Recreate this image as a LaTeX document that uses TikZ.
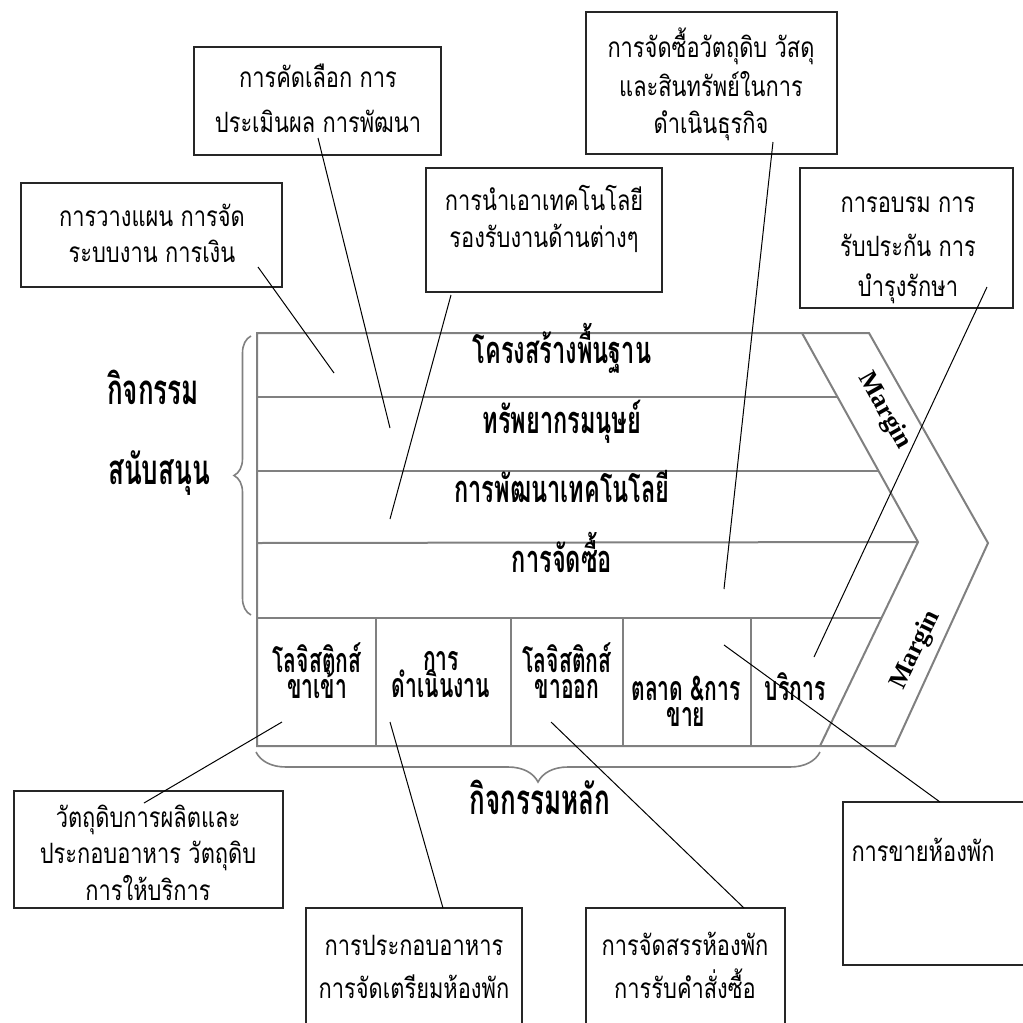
\documentclass[tikz,border=0pt]{standalone}
\usepackage{fontspec}
\usetikzlibrary{fit,decorations.pathreplacing}
\newfontfamily\thai[Script=Thai,FakeStretch=0.78]{Loma}
\newfontfamily\thaihead[Script=Thai,FakeStretch=0.62]{Loma}
\newfontfamily\marginfont{Liberation Serif}
\tikzset{
  box/.style={draw=black!85, line width=0.7pt, inner sep=0pt},
  link/.style={draw=black, line width=0.5pt},
  frame/.style={draw=black!50, line width=1pt},
  note/.style={font=\thai\fontsize{14}{16}\selectfont, anchor=base, inner sep=0pt},
  head/.style={font=\thaihead\bfseries\fontsize{19}{20}\selectfont, anchor=base, inner sep=0pt},
  cell/.style={font=\thaihead\bfseries\fontsize{17}{18}\selectfont, anchor=base, inner sep=0pt},
  big/.style={font=\thaihead\bfseries\fontsize{21}{22}\selectfont, anchor=base, inner sep=0pt},
  mrg/.style={font=\marginfont\bfseries\fontsize{13}{14}\selectfont, inner sep=0pt},
  bracket/.style={draw=black!50, line width=0.8pt, decorate}
}
\begin{document}
\begin{tikzpicture}[x=0.5pt,y=-0.5pt]
\useasboundingbox (0,0) rectangle (1023,1023);
\clip (0,0) rectangle (1023,1023);

% value chain outline
\coordinate (tl) at (257,333);
\coordinate (tr) at (869,333);
\coordinate (tip) at (988,543);
\coordinate (br) at (895,746);
\coordinate (bl) at (257,746);
\coordinate (it) at (802,333);
\coordinate (itip) at (918,542);
\coordinate (ib) at (820,746);
\draw[frame] (tl) -- (tr) -- (tip) -- (br) -- (bl) -- cycle;
\draw[frame] (it) -- (itip) -- (ib);
% support rows
\draw[frame] (257,397) -- (837.5,397);
\draw[frame] (257,471) -- (878.6,471);
\draw[frame] (257,543) -- (itip);
\draw[frame] (257,618) -- (881.5,618);
% primary cells
\foreach \cx in {376,511,623,751} \draw[frame] (\cx,618) -- (\cx,746);

% brackets
\draw[bracket, decoration={brace,amplitude=8.5pt}] (251,615) -- (251,336);
\draw[bracket, decoration={brace,amplitude=15pt}] (820,752) -- (256,752);

% support activity labels
\node[head] (r1) at (562,363) {โครงสร้างพื้นฐาน};
\node[head] (r2) at (562,433) {ทรัพยากรมนุษย์};
\node[head] (r3) at (562,502) {การพัฒนาเทคโนโลยี};
\node[head] (r4) at (562,572) {การจัดซื้อ};

% primary activity labels
\node[cell] (c1a) at (317,672) {โลจิสติกส์};
\node[cell] (c1b) at (317,698) {ขาเข้า};
\node[cell] (c2a) at (441,670) {การ};
\node[cell] (c2b) at (441,697) {ดำเนินงาน};
\node[cell] (c3a) at (567,672) {โลจิสติกส์};
\node[cell] (c3b) at (567,698) {ขาออก};
\node[cell] (c4a) at (686,700) {ตลาด \&การ};
\node[cell] (c4b) at (686,726) {ขาย};
\node[cell] (c5) at (795,700) {บริการ};

% group titles
\node[big] (g1) at (153,404) {กิจกรรม};
\node[big] (g2) at (159,484) {สนับสนุน};
\node[big] (g3) at (540,814) {กิจกรรมหลัก};

% margin labels
\node[mrg, rotate=-60.5] (m1) at (884,411) {Margin};
\node[mrg, rotate=64] (m2) at (916,650) {Margin};

% note boxes
\node[box, fit={(21,183) (282,287)}] (bA) {};
\node[note] (tA1) at (152,226) {การวางแผน การจัด};
\node[note] (tA2) at (152,262) {ระบบงาน การเงิน};

\node[box, fit={(194,47) (441,155)}] (bB) {};
\node[note] (tB1) at (318,87) {การคัดเลือก การ};
\node[note] (tB2) at (318,132) {ประเมินผล การพัฒนา};

\node[box, fit={(426,168) (662,292)}] (bC) {};
\node[note] (tC1) at (544,210) {การนำเอาเทคโนโลยี};
\node[note] (tC2) at (544,247) {รองรับงานด้านต่างๆ};

\node[box, fit={(586,12) (837,154)}] (bD) {};
\node[note] (tD1) at (711,57) {การจัดซื้อวัตถุดิบ วัสดุ};
\node[note] (tD2) at (711,96) {และสินทรัพย์ในการ};
\node[note] (tD3) at (711,133) {ดำเนินธุรกิจ};

\node[box, fit={(800,168) (1013,308)}] (bE) {};
\node[note] (tE1) at (908,212) {การอบรม การ};
\node[note] (tE2) at (908,256) {รับประกัน การ};
\node[note] (tE3) at (908,296) {บำรุงรักษา};

\node[box, fit={(14,791) (283,908)}] (bF) {};
\node[note] (tF1) at (148,827) {วัตถุดิบการผลิตและ};
\node[note] (tF2) at (148,863) {ประกอบอาหาร วัตถุดิบ};
\node[note] (tF3) at (148,900) {การให้บริการ};

\node[box, fit={(306,908) (522,1040)}] (bG) {};
\node[note] (tG1) at (414,955) {การประกอบอาหาร};
\node[note] (tG2) at (414,998) {การจัดเตรียมห้องพัก};

\node[box, fit={(586,908) (785,1040)}] (bH) {};
\node[note] (tH1) at (685,955) {การจัดสรรห้องพัก};
\node[note] (tH2) at (685,998) {การรับคำสั่งซื้อ};

\node[box, fit={(843,802) (1030,965)}] (bI) {};
\node[note] (tI1) at (923,861) {การขายห้องพัก};

% leader lines
\coordinate (aS) at (258,267);  \coordinate (aE) at (334,373);
\coordinate (bS) at (318,138);  \coordinate (bE) at (390,428);
\coordinate (cS) at (451,295);  \coordinate (cE) at (390,519);
\coordinate (dS) at (773,142);  \coordinate (dE) at (724,589);
\coordinate (eS) at (987,287);  \coordinate (eE) at (814,657);
\coordinate (fS) at (144,803);  \coordinate (fE) at (282,722);
\coordinate (gS) at (443,908);  \coordinate (gE) at (390,722);
\coordinate (hS) at (744,908);  \coordinate (hE) at (551,722);
\coordinate (iS) at (940,802);  \coordinate (iE) at (724,645);
\foreach \p in {a,b,c,d,e,f,g,h,i} \draw[link] (\p S) -- (\p E);
\end{tikzpicture}
\end{document}
